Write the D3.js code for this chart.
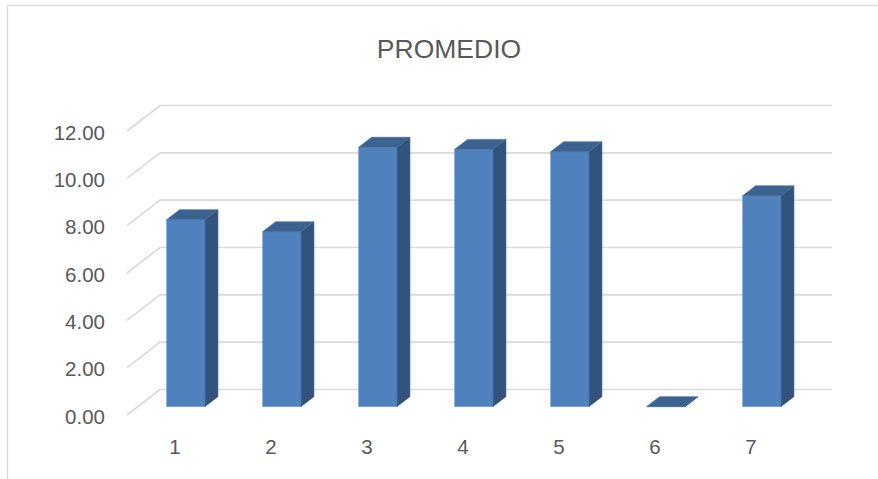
<!DOCTYPE html>
<html>
<head>
<meta charset="utf-8">
<script src="https://cdn.jsdelivr.net/npm/d3@7"></script>
<style>
  html, body { margin: 0; padding: 0; background: #fff; }
  svg { display: block; }
</style>
</head>
<body>
<svg id="chart" width="878" height="479"></svg>
<script>
const categories = ["1", "2", "3", "4", "5", "6", "7"];
const values = [7.9, 7.39, 10.96, 10.87, 10.77, 0, 8.91];
const yTicks = [0, 2, 4, 6, 8, 10, 12];
const title = "PROMEDIO";

const svg = d3.select("#chart");
const font = "'Liberation Sans', Arial, sans-serif";
const textColor = "#595959";

// front plane of the 3D box
const x = d3.scaleBand().domain(categories).range([127, 799])
  .paddingInner(0.6).paddingOuter(0.3);
const y = d3.scaleLinear().domain([0, 12]).range([415, 131]);
const DX = 33, DY = -25.5;           // full depth offset
const f1 = 0.33, f2 = 0.72;          // bar depth fractions

const P = (px, v, d) => [px + DX * d, y(v) + DY * d];

// chart border
svg.append("rect").attr("x", 7.5).attr("y", 5.5).attr("width", 900).attr("height", 500)
  .attr("fill", "#fff").attr("stroke", "#d9d9d9").attr("stroke-width", 1.3);

// title
svg.append("text").attr("x", 449).attr("y", 58).attr("text-anchor", "middle")
  .attr("font-family", font).attr("font-size", 26.5).attr("fill", textColor)
  .text(title);

// gridlines (side wall diagonal + back wall)
const gx0 = x.range()[0], gx1 = x.range()[1];
svg.append("g").selectAll("polyline").data(yTicks).join("polyline")
  .attr("points", d => [P(gx0, d, 0), P(gx0, d, 1), P(gx1, d, 1)].map(p => p.join(",")).join(" "))
  .attr("fill", "none").attr("stroke", "#d9d9d9").attr("stroke-width", 1.6);

// y axis labels
const axis = d3.axisLeft(y).tickValues(yTicks).tickFormat(d3.format(".2f"))
  .tickSize(0).tickPadding(22);
const ag = svg.append("g").attr("transform", "translate(127,1.5)").call(axis);
ag.select(".domain").remove();
ag.selectAll("text").attr("font-family", font).attr("font-size", 20.5).attr("fill", textColor);

// bars
const bw = x.bandwidth();
const bars = svg.append("g").selectAll("g").data(categories.map((c, i) => ({c, v: values[i]})))
  .join("g");
const poly = pts => pts.map(p => p.join(",")).join(" ");
bars.append("polygon") // front
  .attr("points", d => {
    const xl = x(d.c), xr = x(d.c) + bw;
    return poly([P(xl, 0, f1), P(xr, 0, f1), P(xr, d.v, f1), P(xl, d.v, f1)]);
  })
  .attr("fill", "#4f81bd").attr("stroke", "#5b8cc6").attr("stroke-width", 0.6);
bars.append("polygon") // side
  .attr("points", d => {
    const xr = x(d.c) + bw;
    return poly([P(xr, 0, f1), P(xr, d.v, f1), P(xr, d.v, f2), P(xr, 0, f2)]);
  })
  .attr("fill", "#31537c").attr("stroke", "#3a5f8c").attr("stroke-width", 0.6);
bars.append("polygon") // top
  .attr("points", d => {
    const xl = x(d.c), xr = x(d.c) + bw;
    return poly([P(xl, d.v, f1), P(xr, d.v, f1), P(xr, d.v, f2), P(xl, d.v, f2)]);
  })
  .attr("fill", "#3c628f").attr("stroke", "#466c9a").attr("stroke-width", 0.6);

// category labels (centred on the front floor band)
svg.append("g").selectAll("text").data(categories).join("text")
  .attr("x", d => x(d) + bw / 2)
  .attr("y", 454)
  .attr("text-anchor", "middle")
  .attr("font-family", font).attr("font-size", 20.5).attr("fill", textColor)
  .text(d => d);
</script>
</body>
</html>
